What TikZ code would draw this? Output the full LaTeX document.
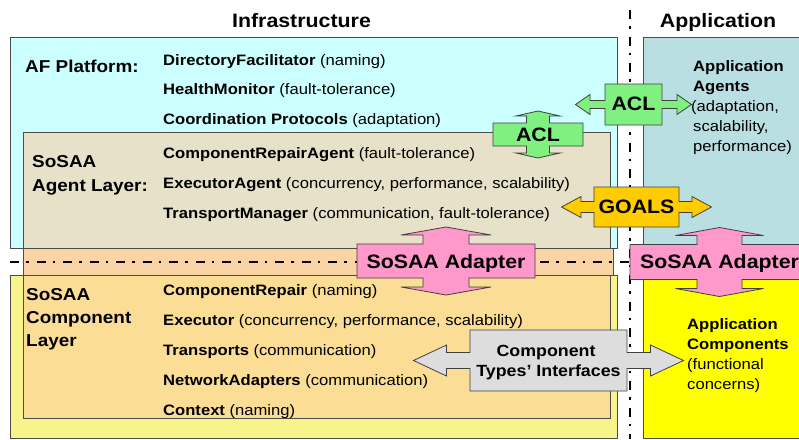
\documentclass[tikz,border=0pt]{standalone}
\usepackage{fontspec}
\setmainfont[FakeStretch=1.1]{Liberation Sans}
\definecolor{cyanbg}{HTML}{CCFFFF}
\definecolor{beigebg}{HTML}{E6E1C8}
\definecolor{peachbg}{HTML}{FBD4A6}
\definecolor{lyellowbg}{HTML}{F8F48C}
\definecolor{compbg}{HTML}{FCDD96}
\definecolor{appagbg}{HTML}{BADFE2}
\definecolor{appcobg}{HTML}{FFFF00}
\definecolor{aclgreen}{HTML}{80F080}
\definecolor{goalgold}{HTML}{FFCC00}
\definecolor{adaptpink}{HTML}{FF99CC}
\definecolor{ifgray}{HTML}{DDDDDD}
\newcommand\hdblarrow[9]{% style, cx, cy, bw, bh, sh, hh, hb, tp
  \draw[#1] ({#2-#4},{#3-#5}) -- ({#2+#4},{#3-#5}) -- ({#2+#4},{#3-#6}) -- ({#2+#8},{#3-#6})
    -- ({#2+#8},{#3-#7}) -- ({#2+#9},{#3}) -- ({#2+#8},{#3+#7}) -- ({#2+#8},{#3+#6})
    -- ({#2+#4},{#3+#6}) -- ({#2+#4},{#3+#5}) -- ({#2-#4},{#3+#5}) -- ({#2-#4},{#3+#6})
    -- ({#2-#8},{#3+#6}) -- ({#2-#8},{#3+#7}) -- ({#2-#9},{#3}) -- ({#2-#8},{#3-#7})
    -- ({#2-#8},{#3-#6}) -- ({#2-#4},{#3-#6}) -- cycle;}
\newcommand\vdblarrow[9]{% style, cx, cy, bw, bh, sh, hh, hb, tp
  \draw[#1] ({#2-#4},{#3-#5}) -- ({#2-#6},{#3-#5}) -- ({#2-#6},{#3-#8}) -- ({#2-#7},{#3-#8})
    -- ({#2},{#3-#9}) -- ({#2+#7},{#3-#8}) -- ({#2+#6},{#3-#8}) -- ({#2+#6},{#3-#5})
    -- ({#2+#4},{#3-#5}) -- ({#2+#4},{#3+#5}) -- ({#2+#6},{#3+#5}) -- ({#2+#6},{#3+#8})
    -- ({#2+#7},{#3+#8}) -- ({#2},{#3+#9}) -- ({#2-#7},{#3+#8}) -- ({#2-#6},{#3+#8})
    -- ({#2-#6},{#3+#5}) -- ({#2-#4},{#3+#5}) -- cycle;}
\tikzset{
  boxline/.style={draw=black!70, line width=0.8pt},
  arrline/.style={draw=black!75, line width=0.8pt},
  itemtxt/.style={anchor=base west, inner sep=0pt, font=\fontsize{15.1}{17}\selectfont},
  lbltxt/.style={anchor=base west, inner sep=0pt, font=\fontsize{17.2}{19}\selectfont\bfseries},
  ttltxt/.style={anchor=base, inner sep=0pt, font=\fontsize{19.4}{21}\selectfont\bfseries},
  arrtxt/.style={anchor=base, inner sep=0pt, font=\fontsize{19.4}{21}\selectfont\bfseries},
  iftxt/.style={anchor=base, inner sep=0pt, font=\fontsize{16.2}{18}\selectfont\bfseries},
  apptxt/.style={anchor=base west, inner sep=0pt, font=\fontsize{15.1}{17}\selectfont},
  dashdotline/.style={line width=2pt, dash pattern=on 9pt off 7pt on 2.5pt off 8pt}
}
\begin{document}
\begin{tikzpicture}[x=1pt,y=-1pt]
\useasboundingbox (0,0) rectangle (799,439);
% titles
\node[ttltxt] (tinf) at (301.5,27) {Infrastructure};
\node[ttltxt] (tapp) at (718,27) {Application};
% boxes
\draw[boxline, fill=cyanbg] (10,37) rectangle (617,248);
\draw[boxline, fill=beigebg] (23,132) rectangle (610,248);
\draw[boxline, fill=peachbg] (23,248) rectangle (613,275);
\draw[boxline, fill=lyellowbg] (10,275) rectangle (617,438);
\draw[boxline, fill=compbg] (23,275) rectangle (610,418);
\draw[boxline, fill=appagbg] (643,37) rectangle (806,248);
\draw[boxline, fill=appcobg] (643,278) rectangle (806,438);
% separator lines
\coordinate (hl1) at (10,262);
\coordinate (hl2) at (640,262);
\coordinate (vl1) at (630,10);
\coordinate (vl2) at (630,439);
\draw[dashdotline] (hl1) -- (hl2);
\draw[dashdotline] (vl1) -- (vl2);
% AF platform
\node[lbltxt] (afp) at (25,72.7) {AF Platform:};
\node[itemtxt] (df) at (163,65) {\textbf{DirectoryFacilitator} (naming)};
\node[itemtxt] (hm) at (163,94.5) {\textbf{HealthMonitor} (fault-tolerance)};
\node[itemtxt] (cp) at (163,124) {\textbf{Coordination Protocols} (adaptation)};
% agent layer
\node[lbltxt] (al1) at (32,167) {SoSAA};
\node[lbltxt] (al2) at (32,191) {Agent Layer:};
\node[itemtxt] (cra) at (163,158.3) {\textbf{ComponentRepairAgent} (fault-tolerance)};
\node[itemtxt] (exa) at (163,188) {\textbf{ExecutorAgent} (concurrency, performance, scalability)};
\node[itemtxt] (tm) at (163,218) {\textbf{TransportManager} (communication, fault-tolerance)};
% component layer
\node[lbltxt] (cl1) at (26,300) {SoSAA};
\node[lbltxt] (cl2) at (26,323) {Component};
\node[lbltxt] (cl3) at (26,346) {Layer};
\node[itemtxt] (cr) at (163,295) {\textbf{ComponentRepair} (naming)};
\node[itemtxt] (ex) at (163,325) {\textbf{Executor} (concurrency, performance, scalability)};
\node[itemtxt] (tr) at (163,355) {\textbf{Transports} (communication)};
\node[itemtxt] (na) at (163,385) {\textbf{NetworkAdapters} (communication)};
\node[itemtxt] (cx) at (163,415.7) {\textbf{Context} (naming)};
% application agents
\node[apptxt] (aa1) at (693,71) {\textbf{Application}};
\node[apptxt] (aa2) at (693,91) {\textbf{Agents}};
\node[apptxt] (aa3) at (691,111.5) {(adaptation,};
\node[apptxt] (aa4) at (693,131.5) {scalability,};
\node[apptxt] (aa5) at (693,151.7) {performance)};
% application components
\node[apptxt] (ac1) at (687,329.3) {\textbf{Application}};
\node[apptxt] (ac2) at (687,349) {\textbf{Components}};
\node[apptxt] (ac3) at (687,369.5) {(functional};
\node[apptxt] (ac4) at (687,389) {concerns)};
% arrows
\vdblarrow{arrline, fill=aclgreen}{538}{134.5}{45}{11.5}{11.5}{22}{18.5}{23.5}
\node[arrtxt] (aclv) at (538,141.5) {ACL};
\hdblarrow{arrline, fill=aclgreen}{633.5}{104.5}{28.5}{20.5}{4}{10}{43.5}{58}
\node[arrtxt] (aclh) at (633.5,110.7) {ACL};
\hdblarrow{arrline, fill=goalgold}{636.5}{207}{42.5}{20}{5.5}{10.5}{55.5}{75}
\node[arrtxt] (goals) at (636.5,213.3) {GOALS};
\vdblarrow{arrline, fill=adaptpink}{446}{261}{89}{17}{23}{45}{26}{34}
\node[arrtxt] (ad1) at (446,268.3) {SoSAA Adapter};
\vdblarrow{arrline, fill=adaptpink}{719.5}{262}{89.5}{17.5}{22.5}{44}{26.5}{34.5}
\node[arrtxt] (ad2) at (719.5,268) {SoSAA Adapter};
\hdblarrow{arrline, fill=ifgray}{548.5}{360.5}{78.5}{30.5}{8}{15.5}{102}{135}
\node[iftxt] (if1) at (546,356) {Component};
\node[iftxt] (if2) at (548.5,376) {Types’ Interfaces};
\end{tikzpicture}
\end{document}
